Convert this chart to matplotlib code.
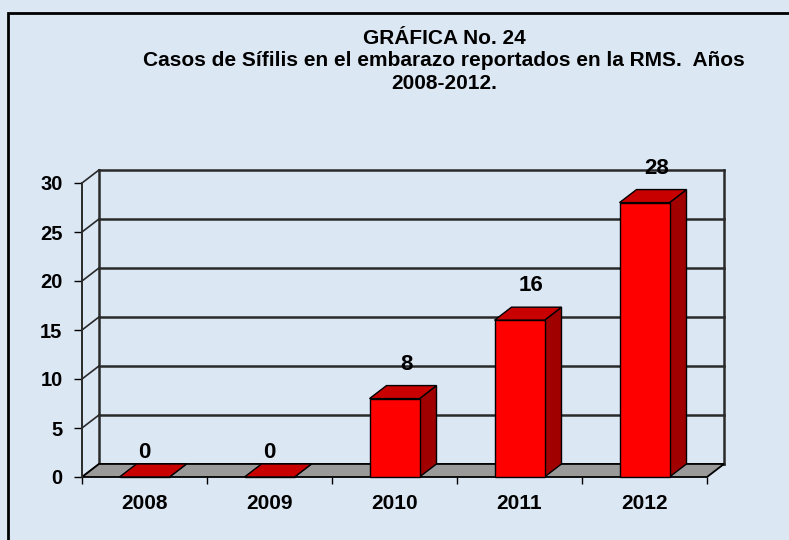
import matplotlib.pyplot as plt
from matplotlib.patches import Polygon, Rectangle

# data
years = ['2008', '2009', '2010', '2011', '2012']
cases = [0, 0, 8, 16, 28]
y_ticks = [0, 5, 10, 15, 20, 25, 30]
title = 'GRÁFICA No. 24\nCasos de Sífilis en el embarazo reportados en la RMS.  Años\n2008-2012.'

plt.rcParams['font.family'] = ['Liberation Sans', 'DejaVu Sans']

BG = '#dce7f4'
RED_FRONT = '#ff0000'
RED_TOP = '#c80000'
RED_SIDE = '#a00000'
FLOOR = '#9a9a9a'
GRID = '#2a2a2a'
DX, DY = 0.136, 1.33      # depth of the 3d box, in data units
BAR_W = 0.4

fig = plt.figure(figsize=(7.89, 5.40), dpi=100, facecolor=BG)
ax = fig.add_axes([82 / 789, 63 / 540, 625 / 789, 294 / 540])
ax.set_facecolor('none')
ax.set_xlim(-0.5, len(years) - 0.5)
ax.set_ylim(0, 30)
for s in ax.spines.values():
    s.set_visible(False)

x0, x1 = -0.5, len(years) - 0.5

# back wall and left wall
for v in y_ticks:
    ax.plot([x0 + DX, x1 + DX], [v + DY, v + DY], color=GRID, lw=1.8, zorder=1, clip_on=False)
    ax.plot([x0, x0 + DX], [v, v + DY], color=GRID, lw=1.2, zorder=1, clip_on=False)
ax.plot([x0 + DX, x0 + DX], [DY, y_ticks[-1] + DY], color=GRID, lw=1.8, zorder=1, clip_on=False)
ax.plot([x1 + DX, x1 + DX], [DY, y_ticks[-1] + DY], color=GRID, lw=1.8, zorder=1, clip_on=False)
ax.plot([x0, x0], [0, y_ticks[-1]], color=GRID, lw=1.4, zorder=4, clip_on=False)

# floor
ax.add_patch(Polygon([(x0, 0), (x1, 0), (x1 + DX, DY), (x0 + DX, DY)], closed=True,
                     facecolor=FLOOR, edgecolor='black', lw=1.3, zorder=2, clip_on=False))

# bars
xs = list(range(len(years)))
for x, v in zip(xs, cases):
    l, r = x - BAR_W / 2, x + BAR_W / 2
    ax.add_patch(Polygon([(r, 0), (r + DX, DY), (r + DX, v + DY), (r, v)], closed=True,
                         facecolor=RED_SIDE, edgecolor='black', lw=1, zorder=3, clip_on=False))
    ax.add_patch(Polygon([(l, v), (r, v), (r + DX, v + DY), (l + DX, v + DY)], closed=True,
                         facecolor=RED_TOP, edgecolor='black', lw=1, zorder=3, clip_on=False))
ax.bar(xs, cases, width=BAR_W, color=RED_FRONT, edgecolor='black', lw=1, zorder=3, clip_on=False)

for x, v in zip(xs, cases):
    if v > 0:
        ax.text(x + DX * 0.7, v + 3.5, str(v), ha='center', va='center', fontsize=16,
                fontweight='bold', zorder=5)
    else:
        ax.text(x, v + 2.5, str(v), ha='center', va='center', fontsize=16,
                fontweight='bold', zorder=5)

# axes ticks
ax.set_yticks(y_ticks)
ax.set_yticklabels([str(t) for t in y_ticks], fontsize=14.5, fontweight='bold')
ax.tick_params(axis='y', length=6, width=1, color='black', pad=8)
ax.set_xticks(xs)
ax.set_xticklabels(years, fontsize=15, fontweight='bold')
ax.set_xticks([i - 0.5 for i in range(len(years) + 1)], minor=True)
ax.tick_params(axis='x', which='major', length=0, pad=12)
ax.tick_params(axis='x', which='minor', length=5, width=1, color='black')

fig.text(444 / 789, 1 - 61 / 540, title, ha='center', va='center', fontsize=15,
         fontweight='bold', linespacing=1.25)

# outer frame
fig.patches.append(Rectangle((7.5 / 789, -0.05), 1.1, 1.05 - 12.5 / 540, transform=fig.transFigure,
                             fill=False, edgecolor='black', lw=2, zorder=0))

fig.savefig('out.png', dpi=100, facecolor=BG)
